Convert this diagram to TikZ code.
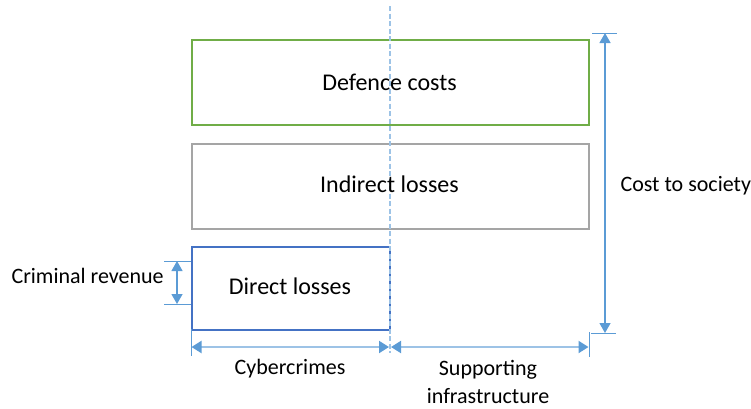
\documentclass[tikz,border=0pt]{standalone}
\usepackage{fontspec}
\setmainfont{Carlito}
\usetikzlibrary{arrows.meta}
\definecolor{cgreen}{HTML}{70AD47}
\definecolor{cgray}{HTML}{A5A5A5}
\definecolor{cblue}{HTML}{4472C4}
\definecolor{carrow}{HTML}{5B9BD5}
\definecolor{clight}{HTML}{9DC3E6}
\begin{document}
\begin{tikzpicture}[x=1pt,y=-1pt,
  box/.style={draw,line width=2pt,inner sep=0pt,anchor=north west},
  big/.style={font=\fontsize{24}{28}\selectfont},
  small/.style={font=\fontsize{22}{28}\selectfont,align=center},
  dim/.style={draw=carrow,line width=1.3pt,{Triangle[length=10pt,width=11pt,fill=carrow]}-{Triangle[length=10pt,width=11pt,fill=carrow]}},
  dimh/.style={draw=clight,line width=2pt,{Triangle[length=10pt,width=12pt,fill=carrow,color=carrow]}-{Triangle[length=10pt,width=12pt,fill=carrow,color=carrow]}},
  tick/.style={draw=carrow,line width=1pt}]
\useasboundingbox (0,0) rectangle (751,408);
\node[box,draw=cgreen,minimum width=397pt,minimum height=85pt] (def) at (191,39) {};
\node[box,draw=cgray,minimum width=397pt,minimum height=85pt] (ind) at (191,143) {};
\node[box,draw=cblue,minimum width=198pt,minimum height=83pt] (dir) at (191,246) {};
% dashed divider
\coordinate (dtop) at (390,6);
\coordinate (dbot) at (390,353);
\draw[clight,line width=1.3pt,dash pattern=on 5pt off 2.5pt] (dtop) -- (dbot);
\node[big] (deft) at (389.5,82) {Defence costs};
\node[big] (indt) at (389.5,184) {Indirect losses};
\node[big] (dirt) at (290,286) {Direct losses};
% cost to society
\coordinate (ct1) at (592,33); \coordinate (ct2) at (617,33);
\coordinate (cb1) at (591,333); \coordinate (cb2) at (616,333);
\draw[tick] (ct1) -- (ct2);
\draw[tick] (cb1) -- (cb2);
\coordinate (ca) at (605,33); \coordinate (cb) at (605,333);
\draw[dim] (ca) -- (cb);
\node[small,anchor=west] (cost) at (617,186) {Cost to society};
% criminal revenue
\coordinate (r1) at (164,261); \coordinate (r2) at (164,304);
\draw[tick] (r1) -- (dir.west |- r1);
\draw[tick] (r2) -- (dir.west |- r2);
\coordinate (ra) at (177,261); \coordinate (rb) at (177,304);
\draw[dim] (ra) -- (rb);
\node[small,anchor=west] (crim) at (8,276) {Criminal revenue};
% bottom
\coordinate (bl1) at (191,329); \coordinate (bl2) at (191,356);
\coordinate (br1) at (589,332); \coordinate (br2) at (589,357);
\draw[tick] (bl1) -- (bl2);
\draw[tick] (br1) -- (br2);
\coordinate (h1) at (191.5,347); \coordinate (h2) at (389,347);
\coordinate (h3) at (391,347); \coordinate (h4) at (588.5,347);
\draw[dimh] (h1) -- (h2);
\draw[dimh] (h3) -- (h4);
\node[small] (cyb) at (290,369) {Cybercrimes};
\node[small] (sup) at (488,382) {Supporting\\infrastructure};
\end{tikzpicture}
\end{document}
